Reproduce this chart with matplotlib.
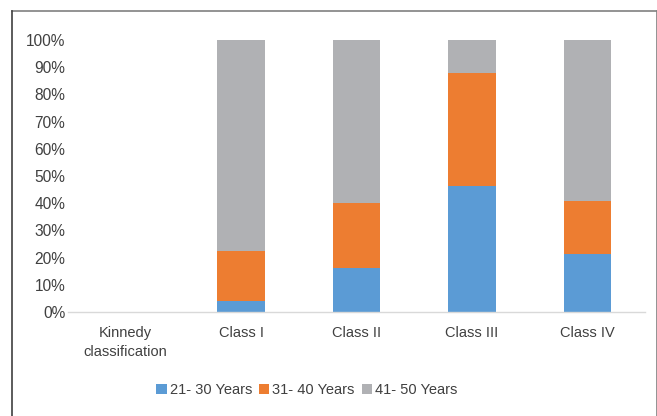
import matplotlib
matplotlib.use("Agg")
import matplotlib.pyplot as plt
from matplotlib.lines import Line2D
import numpy as np

categories = ["Kinnedy\nclassification", "Class I", "Class II", "Class III", "Class IV"]
series_names = ["21- 30 Years", "31- 40 Years", "41- 50 Years"]
age_21_30 = [0, 4.0, 16.0, 46.5, 21.5]
age_31_40 = [0, 18.5, 24.0, 41.5, 19.2]
age_41_50 = [0, 77.5, 60.0, 12.0, 59.3]
colors = ["#5B9BD5", "#ED7D31", "#B0B1B4"]
ytick_labels = ["0%", "10%", "20%", "30%", "40%", "50%", "60%", "70%", "80%", "90%", "100%"]

plt.rcParams['font.family'] = ['Liberation Sans', 'DejaVu Sans']

W, H = 657, 416
fig = plt.figure(figsize=(W / 100, H / 100), dpi=100)
ax = fig.add_axes([68 / W, 1 - 312 / H, (645 - 68) / W, (312 - 40) / H])

x = np.arange(len(categories))
data = [np.array(age_21_30), np.array(age_31_40), np.array(age_41_50)]
totals = data[0] + data[1] + data[2]
totals = np.where(totals == 0, 1, totals)
bottom = np.zeros(len(categories))
for vals, name, c in zip(data, series_names, colors):
    frac = vals / totals
    ax.bar(x, frac, 0.41, bottom=bottom, color=c, label=name)
    bottom += frac

ax.set_xlim(-0.5, len(categories) - 0.5)
ax.set_ylim(0, 1)
ax.set_yticks(np.linspace(0, 1, 11))
ax.set_yticklabels(ytick_labels)
ax.set_xticks(x)
ax.set_xticklabels(categories, linespacing=1.45)
ax.tick_params(axis='both', length=0, labelsize=10.5, colors="#404040")
ax.tick_params(axis='y', labelsize=11.2, pad=2)
ax.tick_params(axis='x', pad=10)
for s in ["top", "right", "left"]:
    ax.spines[s].set_visible(False)
ax.spines["bottom"].set_color("#D9D9D9")
ax.spines["bottom"].set_linewidth(1)

leg = fig.legend(loc="center", bbox_to_anchor=(307 / W, 1 - 390 / H), ncol=3, frameon=False,
                 fontsize=10.5, handlelength=0.7, handleheight=0.7, handletextpad=0.2,
                 columnspacing=0.5, labelcolor="#404040")

# chart frame
fig.add_artist(Line2D([12 / W, 656.5 / W], [1 - 11 / H, 1 - 11 / H], transform=fig.transFigure,
                      color="#808080", linewidth=1.2))
fig.add_artist(Line2D([12 / W, 12 / W], [1 - 11 / H, 0], transform=fig.transFigure,
                      color="#404040", linewidth=1.2))
fig.add_artist(Line2D([656.5 / W, 656.5 / W], [1 - 11 / H, 0], transform=fig.transFigure,
                      color="#808080", linewidth=1.2))

fig.savefig("out.png", dpi=100)
